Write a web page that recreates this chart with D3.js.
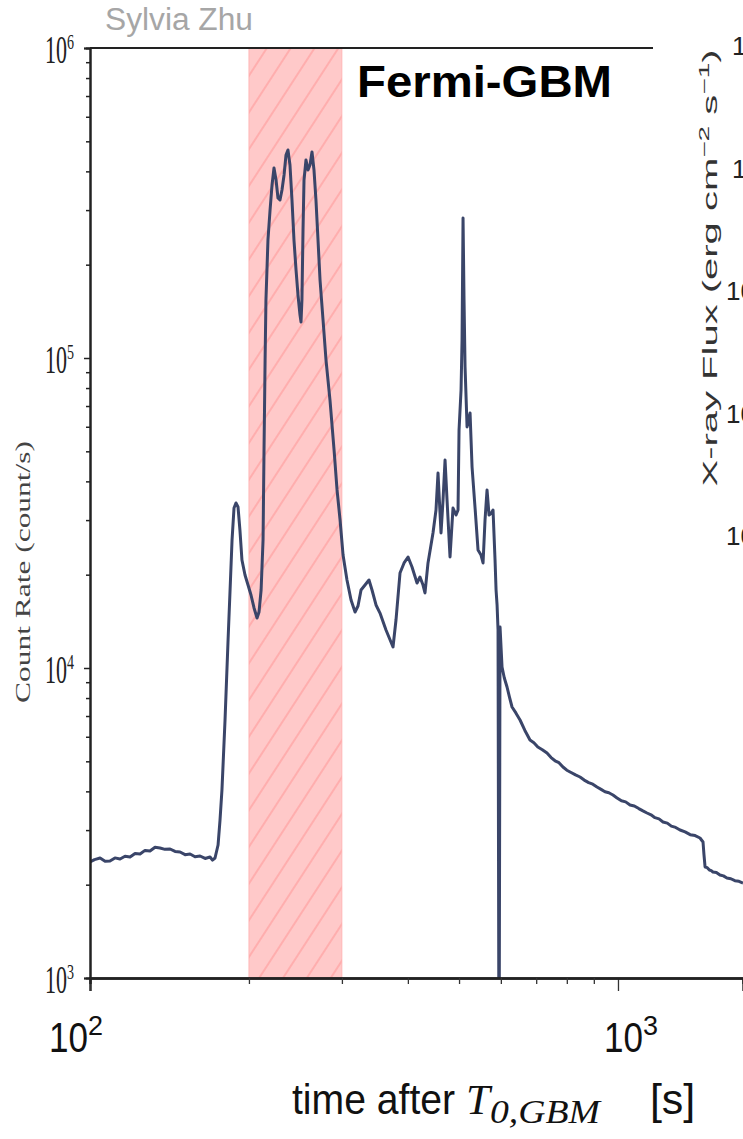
<!DOCTYPE html>
<html>
<head>
<meta charset="utf-8">
<script src="https://cdn.jsdelivr.net/npm/d3@7"></script>
<style>
  html, body { margin: 0; padding: 0; background: #fff; }
  svg { display: block; }
</style>
</head>
<body>
<div id="chart"></div>
<script>
// GBM light curve: time after trigger (s) and detector count rate (count/s)
const time = [
  100, 102, 104.5, 106.8, 109.1, 111.5, 114.0, 116.5, 119.1, 121.7, 124.4, 127.1, 129.9, 132.8,
  135.7, 138.7, 141.8, 144.9, 148.1, 151.4, 154.7, 158.1, 161.6, 165.2, 168.8, 170.6, 172.5,
  174.8, 176.3, 177.8, 180.2, 182.6, 184.2, 185.8, 187.4, 189.0, 190.7, 192.3, 194.0, 196.6, 199.2,
  201.8, 204.5, 207.2, 209.0, 210.9, 212.7, 213.6, 214.6, 215.4, 217.3, 219.3, 221.2, 223.1, 225.1,
  227.0, 229.0, 231.0, 233.1, 235.1, 237.1, 239.2, 241.3, 243.4, 245.6, 247.7, 249.9, 251.0, 252.0,
  253.2, 254.3, 256.5, 258.8, 261.0, 263.3, 265.6, 267.9, 270.3, 272.7, 276.3, 279.9, 284.8, 289.9,
  293.7, 297.6, 301.5, 306.7, 312.2, 317.7, 321.8, 326.1, 331.8, 337.6, 342.1, 348.1, 354.2, 363.6,
  374.9, 379.8, 386.5, 393.4, 400.3, 407.3, 416.3, 421.7, 427.3, 431.0, 436.7, 446.3, 452.2, 456.2,
  462.2, 466.3, 470.4, 474.5, 480.7, 487.0, 493.5, 497.8, 500.0, 504.4, 506.6, 508.8, 511.0, 513.3,
  517.8, 524.6, 529.2, 536.2, 543.2, 550.3, 555.2, 560.0, 564.9, 569.9, 574.9, 579.9, 585.0, 587.6,
  590.2, 592.7, 595.3, 597.9, 603.1, 609.0, 616.4, 623.0, 630.0, 641.0, 652.4, 666.0, 681.3, 693,
  705, 719, 733.8, 747, 760, 773, 786.7, 800, 815, 831, 847.4, 863, 880, 896,
  912.5, 929, 945, 961, 978.4, 996, 1015, 1034, 1054, 1074, 1095, 1115, 1135, 1155,
  1175, 1196, 1217, 1240, 1262, 1286, 1311, 1340, 1370, 1400, 1430, 1449, 1455, 1462,
  1476, 1490, 1502, 1513, 1536, 1560, 1584, 1608, 1636, 1665, 1695, 1725
];
const rate = [
  2367, 2410, 2438, 2380, 2385, 2440, 2420, 2470, 2456, 2520, 2512, 2580, 2568, 2640,
  2626, 2600, 2607, 2560, 2550, 2500, 2512, 2460, 2475, 2430, 2456, 2400, 2438,
  2685, 3233, 4042, 6796, 12310, 17850, 25870, 32820, 34070, 33070, 27870, 22300, 19950, 18520,
  17200, 15620, 14500, 15160, 17850, 25870, 50500, 98500, 153800, 240300, 300200, 361500, 410200, 375200,
  328200, 323300, 348300, 389300, 451700, 468800, 419400, 323300, 240300, 192300, 159700, 137600, 130700, 153800,
  258800, 375200, 435300, 404200, 419400, 461800, 404200, 323300, 240300, 178500, 132600, 98500, 73180, 50500,
  37520, 30020, 23140, 19230, 16570, 15160, 15850, 17850, 18520, 19230, 17850, 15970, 15040, 13260,
  11690, 14280, 20250, 21820, 22810, 21170, 18800, 19660, 18520, 17460, 21820, 27260, 32330, 42560,
  27260, 34840, 46880, 34840, 22810, 32820, 31150, 32330, 58580, 78850, 114300, 282900, 153800, 93540,
  59910, 66470, 44500, 32820, 24020, 23140, 21820, 30020, 37520, 31150, 31500, 32330, 22300, 17850,
  15970, 13260, 400, 13560, 10070, 9300, 8685, 8050, 7485, 7150, 6796, 6300, 5857, 5740,
  5560, 5450, 5318, 5140, 5020, 4950, 4794, 4680, 4600, 4520, 4450, 4350, 4270, 4220,
  4131, 4060, 3990, 3960, 3893, 3810, 3730, 3700, 3614, 3590, 3520, 3460, 3406, 3360,
  3290, 3260, 3187, 3160, 3090, 3060, 3002, 2960, 2900, 2880, 2829, 2746, 2500, 2281,
  2270, 2230, 2220, 2198, 2190, 2150, 2135, 2102, 2090, 2060, 2050, 2025
];

// Shaded interval (s)
const bandStart = [200];
const bandEnd = [300];

// Axis ticks
const xMajor = [100, 1000];
const xMinor = [200, 300, 400, 500, 600, 700, 800, 900];
const yMajor = [1e3, 1e4, 1e5, 1e6];
const yMinor = [1e3, 1e4, 1e5].flatMap(d => [2, 3, 4, 5, 6, 7, 8, 9].map(k => k * d));
const xTickExp = ["2", "3"];
const yTickExp = ["3", "4", "5", "6"];

// Partial flux axis of the neighbouring panel
const fluxTickText = ["1", "1", "10", "10", "10"];
const fluxTickX = [732, 732, 726, 726, 726];

const W = 743, H = 1139;
const svg = d3.select("#chart").append("svg")
  .attr("width", W).attr("height", H)
  .attr("viewBox", `0 0 ${W} ${H}`);

svg.append("rect").attr("width", W).attr("height", H).attr("fill", "#fff");

const x = d3.scaleLog().domain([100, 1725]).range([90, 743]);
const y = d3.scaleLog().domain([1e3, 1e6]).range([978, 48]);

const defs = svg.append("defs");
defs.append("clipPath").attr("id", "plotClip")
  .append("rect").attr("x", 90).attr("y", 48).attr("width", 653).attr("height", 930);

const pat = defs.append("pattern").attr("id", "hatch")
  .attr("patternUnits", "userSpaceOnUse")
  .attr("width", 20).attr("height", 20)
  .attr("patternTransform", "rotate(33)");
pat.append("rect").attr("width", 20).attr("height", 20).attr("fill", "#ffc9c9");
pat.append("line").attr("x1", 10).attr("x2", 10).attr("y1", 0).attr("y2", 20)
  .attr("stroke", "#ff9c9c").attr("stroke-width", 1.2);

// Shaded interval
svg.append("g").selectAll("rect").data(bandStart).join("rect")
  .attr("x", d => x(d))
  .attr("width", (d, i) => x(bandEnd[i]) - x(d))
  .attr("y", y(1e6)).attr("height", y(1e3) - y(1e6))
  .attr("fill", "url(#hatch)")
  .attr("stroke", "#ffb0b0").attr("stroke-width", 0.8);

// Light curve
const pts = time.map((t, i) => [t, rate[i]]);
svg.append("path")
  .datum(pts)
  .attr("clip-path", "url(#plotClip)")
  .attr("fill", "none")
  .attr("stroke", "#3a4569")
  .attr("stroke-width", 3)
  .attr("stroke-linejoin", "round")
  .attr("d", d3.line().x(d => x(d[0])).y(d => y(Math.max(d[1], 100))));

// Top frame line
svg.append("line").attr("x1", 90).attr("x2", 653).attr("y1", y(1e6)).attr("y2", y(1e6))
  .attr("stroke", "#222").attr("stroke-width", 2.2);

// x axis
const gx = svg.append("g").attr("transform", `translate(0,${y(1e3)})`);
gx.call(d3.axisBottom(x).tickValues(xMajor).tickSize(13).tickFormat(""));
gx.append("g").call(d3.axisBottom(x).tickValues(xMinor).tickSize(6).tickFormat(""));
gx.selectAll(".domain").attr("stroke", "#222").attr("stroke-width", 2.4);
gx.selectAll(".tick line").attr("stroke", "#333").attr("stroke-width", 1.3);

// y axis
const gy = svg.append("g").attr("transform", `translate(${x(100)},0)`);
gy.call(d3.axisLeft(y).tickValues(yMajor).tickSize(6).tickFormat(""));
gy.append("g").call(d3.axisLeft(y).tickValues(yMinor).tickSize(4).tickFormat(""));
gy.selectAll(".domain").attr("stroke", "#222").attr("stroke-width", 2);
gy.selectAll(".tick line").attr("stroke", "#222").attr("stroke-width", 1.5);

// y tick labels (condensed serif)
const yl = svg.append("g");
yMajor.forEach((v, i) => {
  const t = yl.append("text")
    .attr("x", 45).attr("y", y(v) + 15)
    .attr("font-family", "Liberation Serif, serif")
    .attr("font-size", 40).attr("fill", "#222");
  t.append("tspan").text("10").attr("textLength", 22).attr("lengthAdjust", "spacingAndGlyphs");
  t.append("tspan").text(yTickExp[i]).attr("font-size", 21).attr("dy", -14)
    .attr("textLength", 7).attr("lengthAdjust", "spacingAndGlyphs");
});

// x tick labels
const xLabelPos = d3.scaleLog().domain([100, 1000]).range([49, 604]);
xMajor.forEach((v, i) => {
  const t = svg.append("text")
    .attr("x", xLabelPos(v)).attr("y", 1052)
    .attr("font-family", "Liberation Sans, Arial, sans-serif")
    .attr("font-size", 42).attr("fill", "#111");
  t.append("tspan").text("10").attr("textLength", 39).attr("lengthAdjust", "spacingAndGlyphs");
  t.append("tspan").text(xTickExp[i]).attr("font-size", 27).attr("dy", -17);
});

// y axis title
svg.append("text")
  .attr("transform", `translate(30,${572}) rotate(-90)`)
  .attr("text-anchor", "middle")
  .attr("font-family", "Liberation Serif, serif")
  .attr("font-size", 21).attr("fill", "#444")
  .attr("textLength", 262).attr("lengthAdjust", "spacingAndGlyphs")
  .text("Count Rate (count/s)");

// x axis title
const xt = svg.append("text")
  .attr("x", 292).attr("y", 1114)
  .attr("font-family", "Liberation Sans, Arial, sans-serif")
  .attr("font-size", 43).attr("fill", "#111");
xt.append("tspan").text("time after ").attr("textLength", 174).attr("lengthAdjust", "spacingAndGlyphs");
xt.append("tspan").text("T").attr("font-family", "Liberation Serif, serif").attr("font-style", "italic");
xt.append("tspan").text("0,GBM").attr("font-family", "Liberation Serif, serif").attr("font-style", "italic")
  .attr("font-size", 33).attr("dy", 9).attr("textLength", 110).attr("lengthAdjust", "spacingAndGlyphs");
xt.append("tspan").text("[s]").attr("dy", -9).attr("dx", 50);

// Author and instrument labels
svg.append("text").attr("x", 105).attr("y", 30)
  .attr("font-family", "Liberation Sans, Arial, sans-serif")
  .attr("font-size", 31).attr("fill", "#a6a6a6")
  .attr("textLength", 148).attr("lengthAdjust", "spacingAndGlyphs")
  .text("Sylvia Zhu");

svg.append("text").attr("x", 357).attr("y", 97)
  .attr("font-family", "Liberation Sans, Arial, sans-serif")
  .attr("font-weight", "bold")
  .attr("font-size", 44).attr("fill", "#000")
  .attr("textLength", 255).attr("lengthAdjust", "spacingAndGlyphs")
  .text("Fermi-GBM");

// Neighbouring panel: flux axis title and tick labels
const ft = svg.append("text")
  .attr("transform", `translate(717,${268}) rotate(-90) scale(2,1)`)
  .attr("text-anchor", "middle")
  .attr("font-family", "Liberation Sans, Arial, sans-serif")
  .attr("font-size", 20).attr("fill", "#333");
ft.append("tspan").text("X-ray Flux (erg cm");
ft.append("tspan").text("\u22122").attr("font-size", 14).attr("dy", -8);
ft.append("tspan").text(" s").attr("font-size", 20).attr("dy", 8);
ft.append("tspan").text("\u22121").attr("font-size", 14).attr("dy", -8);
ft.append("tspan").text(")").attr("font-size", 20).attr("dy", 8);

const fluxY = d3.scalePoint().domain(d3.range(fluxTickText.length)).range([45, 535]);
svg.append("g").selectAll("text").data(fluxTickText).join("text")
  .attr("x", (d, i) => fluxTickX[i]).attr("y", (d, i) => fluxY(i) + 10)
  .attr("font-family", "Liberation Sans, Arial, sans-serif")
  .attr("font-size", 26).attr("fill", "#222")
  .text(d => d);
</script>
</body>
</html>
